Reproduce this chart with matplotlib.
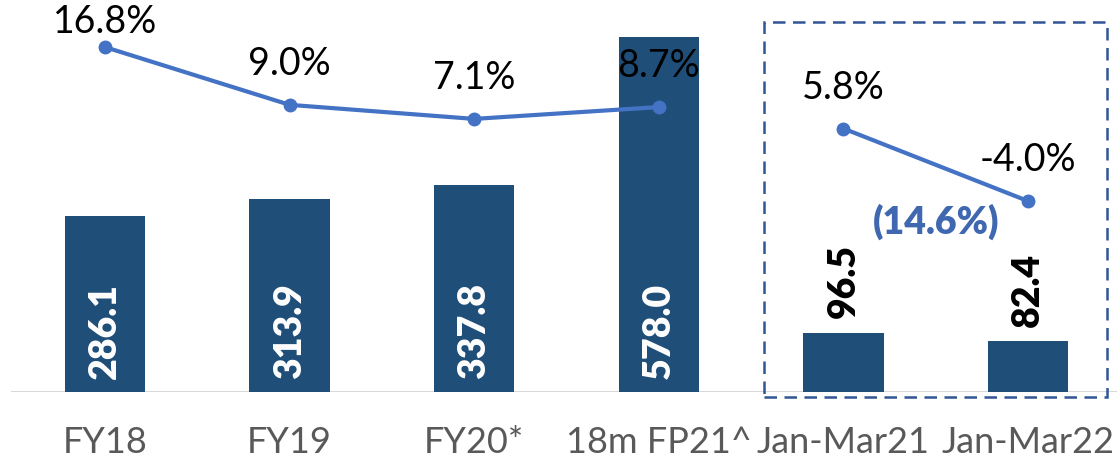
import matplotlib
matplotlib.use("Agg")
import matplotlib.pyplot as plt
from matplotlib.patches import Rectangle

plt.rcParams['font.family'] = ['Lato', 'DejaVu Sans']

# data
periods = ['FY18', 'FY19', 'FY20*', '18m FP21^', 'Jan-Mar21', 'Jan-Mar22']
revenue = [286.1, 313.9, 337.8, 578.0, 96.5, 82.4]
growth = [16.8, 9.0, 7.1, 8.7, 5.8, -4.0]
yoy_label = '(14.6%)'

bar_col = '#1F4E79'
line_col = '#4472C4'

fig = plt.figure(figsize=(11.17, 4.64), dpi=100)
ax = fig.add_axes([0, 71 / 464, 1, 393 / 464])
x = list(range(len(periods)))
ax.set_xlim(-105 / 184.6, (1117 - 105) / 184.6)
ax.set_ylim(0, 640)

ax.bar(x, revenue, width=0.435, color=bar_col, zorder=2)
ax.axhline(0, xmin=12 / 1117, xmax=1, color='#D9D9D9', lw=1.5, zorder=1)

for s in ax.spines.values():
    s.set_visible(False)
ax.set_yticks([])
ax.set_xticks(x)
ax.set_xticklabels(periods, fontsize=26, color='#595959')
ax.tick_params(axis='x', length=0, pad=24)

# bar labels: inside for the long bars, above for the quarterly ones
for i, v in enumerate(revenue):
    if i < 4:
        ax.annotate(f'{v:.1f}', (i, 0), xytext=(0, 10), textcoords='offset points',
                    rotation=90, ha='center', va='bottom', color='white',
                    fontsize=27, fontweight='heavy', zorder=3)
    else:
        ax.annotate(f'{v:.1f}', (i, v), xytext=(0, 11), textcoords='offset points',
                    rotation=90, ha='center', va='bottom', color='black',
                    fontsize=27, fontweight='heavy', zorder=3)

ax2 = ax.twinx()
ax2.set_ylim(-29.8, 23.3)
ax2.axis('off')
ax2.plot(x[:4], growth[:4], color=line_col, lw=3, marker='o', ms=9, zorder=4)
ax2.plot(x[4:], growth[4:], color=line_col, lw=3, marker='o', ms=9, zorder=4)

for i, g in enumerate(growth):
    off = 19 if i == 0 else 30
    ax2.annotate(f'{g:.1f}%', (i, g), xytext=(0, off), textcoords='offset points',
                 ha='center', va='center', fontsize=27, color='black',
                 annotation_clip=False)

ax2.annotate(yoy_label, (4.5, growth[5]), xytext=(0, -14), textcoords='offset points',
             ha='center', va='center', fontsize=27, fontweight='heavy', color='#3F68B0')

# dashed highlight box around the quarterly comparison
fig.patches.append(Rectangle((764 / 1117, (464 - 398) / 464), (1107 - 764) / 1117,
                             (398 - 23) / 464, transform=fig.transFigure, fill=False,
                             edgecolor='#2F5597', lw=1.8, linestyle=(0, (5, 3))))

fig.savefig('out.png', dpi=100)
